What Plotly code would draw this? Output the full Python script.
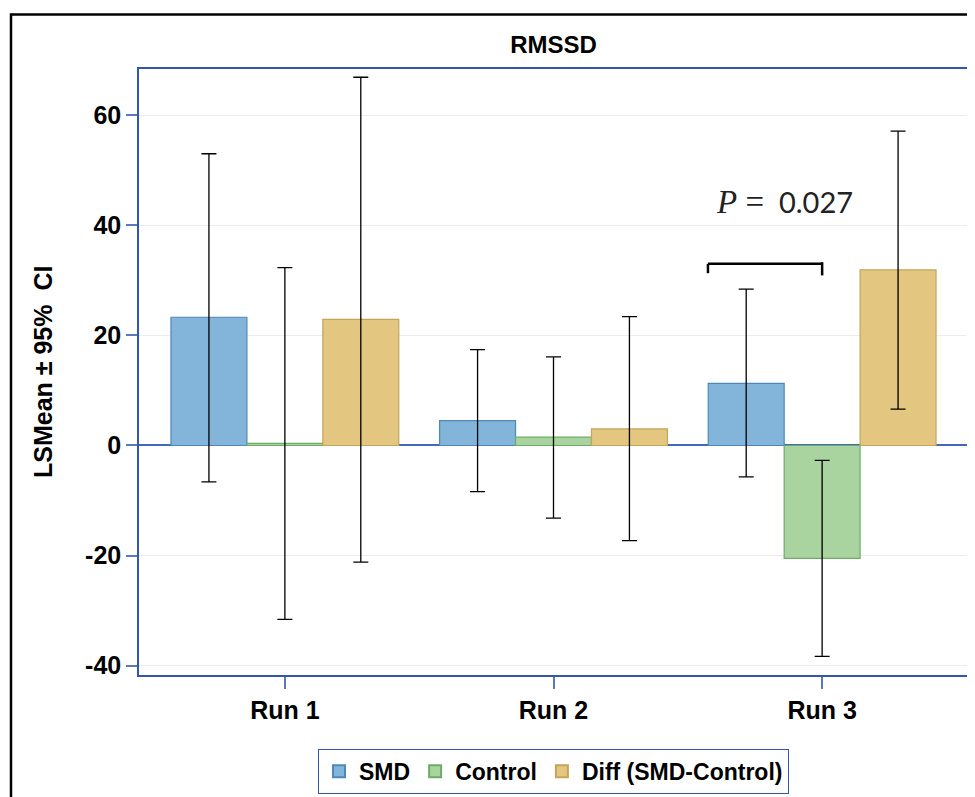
import plotly.graph_objects as go

categories = ["Run 1", "Run 2", "Run 3"]
series_names = ["SMD", "Control", "Diff (SMD-Control)"]

smd_mean = [23.3, 4.5, 11.3]
smd_lower = [-6.6, -8.4, -5.7]
smd_upper = [53.0, 17.4, 28.4]

ctrl_mean = [0.4, 1.5, -20.5]
ctrl_lower = [-31.6, -13.2, -38.3]
ctrl_upper = [32.3, 16.1, -2.7]

diff_mean = [22.9, 3.0, 31.9]
diff_lower = [-21.2, -17.3, 6.6]
diff_upper = [66.9, 23.4, 57.1]

ytick_vals = [-40, -20, 0, 20, 40, 60]
ytick_text = ["-40", "-20", "0", "20", "40", "60"]

p_value_text = "0.027"
bracket_x = [1.575, 2.0]
bracket_y = 33.0
bracket_drop = 1.7

fill_colors = ["#83b5da", "#a9d39f", "#e3c680"]
edge_colors = ["#4f88b8", "#6fab68", "#c4a55a"]

means = [smd_mean, ctrl_mean, diff_mean]
lowers = [smd_lower, ctrl_lower, diff_lower]
uppers = [smd_upper, ctrl_upper, diff_upper]

FONT = "Liberation Sans, Arial, sans-serif"
AXIS_BLUE = "#3355aa"

fig = go.Figure()
for name, m, lo, up, fc, ec in zip(series_names, means, lowers, uppers, fill_colors, edge_colors):
    fig.add_trace(go.Bar(
        x=categories, y=m, name=name,
        marker=dict(color=fc, line=dict(color=ec, width=1.2)),
        error_y=dict(type="data", symmetric=False,
                     array=[u - v for u, v in zip(up, m)],
                     arrayminus=[v - l for v, l in zip(m, lo)],
                     color="black", thickness=1.3, width=7.5),
    ))

fig.update_layout(
    width=975, height=797,
    margin=dict(l=131, r=15, t=61, b=129),
    paper_bgcolor="white", plot_bgcolor="white",
    barmode="group", bargap=0.152, bargroupgap=0,
    font=dict(family=FONT, color="black"),
    title=dict(text="RMSSD", x=0.5, xref="paper", xanchor="center",
               y=1 - 37 / 797, yref="container", yanchor="middle",
               font=dict(size=24, weight="bold", family=FONT)),
    showlegend=True,
    legend=dict(orientation="h", x=0.5, xanchor="center", y=-0.12, yanchor="top",
                bordercolor=AXIS_BLUE, borderwidth=1,
                font=dict(size=23, weight="bold", family=FONT),
                itemsizing="constant", traceorder="normal"),
)

fig.update_xaxes(
    range=[-0.543, 2.543],
    showline=True, mirror=True, linecolor=AXIS_BLUE, linewidth=1.5,
    ticks="outside", ticklen=12, tickcolor="#5a78c0", tickwidth=1.5,
    tickfont=dict(size=25, weight="bold", family=FONT),
    showgrid=False,
)
fig.update_yaxes(
    range=[-41.7, 68.4],
    tickvals=ytick_vals, ticktext=ytick_text,
    showline=True, mirror=True, linecolor=AXIS_BLUE, linewidth=1.5,
    ticks="outside", ticklen=11, tickcolor="#5a78c0", tickwidth=1.5,
    tickfont=dict(size=25, weight="bold", family=FONT),
    showgrid=True, gridcolor="#ececec", gridwidth=1,
    zeroline=True, zerolinecolor="#4466bb", zerolinewidth=2,
)

# y-axis label
fig.add_annotation(
    text="LSMean ± 95%&nbsp; CI", xref="paper", yref="paper",
    x=(43 - 139) / 829, y=0.5, xanchor="center", yanchor="middle",
    textangle=-90, showarrow=False,
    font=dict(size=25, weight="bold", family=FONT),
)

# significance bracket
fig.add_shape(type="line", xref="x", yref="y",
              x0=bracket_x[0], x1=bracket_x[1], y0=bracket_y, y1=bracket_y,
              line=dict(color="black", width=2.5))
fig.add_shape(type="line", xref="x", yref="y",
              x0=bracket_x[0], x1=bracket_x[0], y0=bracket_y, y1=bracket_y - bracket_drop,
              line=dict(color="black", width=2.5))
fig.add_shape(type="line", xref="x", yref="y",
              x0=bracket_x[1], x1=bracket_x[1], y0=bracket_y + 0.3, y1=bracket_y - bracket_drop - 0.4,
              line=dict(color="black", width=2.5))

fig.add_annotation(
    text="<span style='font-family:Liberation Serif, serif; font-size:33px'><i>P</i> =</span>&nbsp;&nbsp;" + p_value_text,
    xref="x", yref="y", x=1.861, y=44.3, xanchor="center", yanchor="middle",
    showarrow=False, font=dict(size=29, family="Lato, sans-serif", color="#222222"),
)

# outer frame
fig.add_shape(type="rect", xref="paper", yref="paper",
              x0=(11 - 139) / 829, x1=1.05, y0=-0.3, y1=(676 - 14) / 607.3,
              line=dict(color="black", width=2.5), fillcolor="rgba(0,0,0,0)")

fig.write_html("out.html")
